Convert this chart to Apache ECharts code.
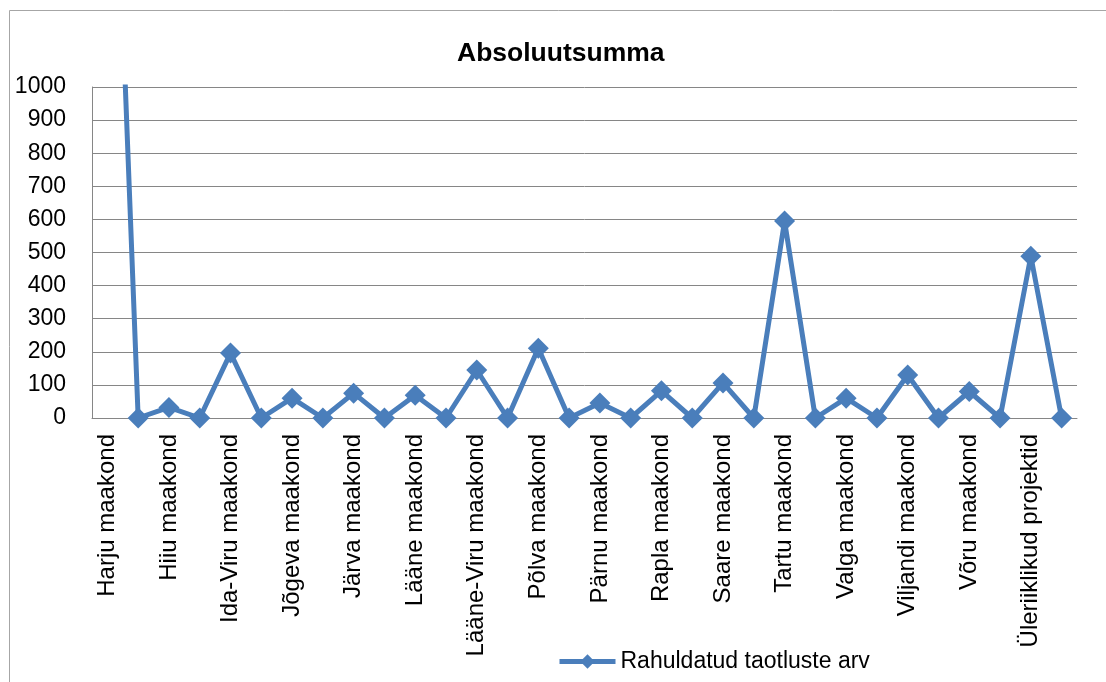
<!DOCTYPE html>
<html>
<head>
<meta charset="utf-8">
<script src="https://cdn.jsdelivr.net/npm/echarts@6/dist/echarts.min.js"></script>
<style>
  html, body { margin: 0; padding: 0; background: #fff; }
  #chart { width: 1106px; height: 682px; }
</style>
</head>
<body>
<div id="chart"></div>
<script>
// every second category has no label in the original
var categories = [
  "Harju maakond", "", "Hiiu maakond", "", "Ida-Viru maakond", "",
  "Jõgeva maakond", "", "Järva maakond", "", "Lääne maakond", "",
  "Lääne-Viru maakond", "", "Põlva maakond", "", "Pärnu maakond", "",
  "Rapla maakond", "", "Saare maakond", "", "Tartu maakond", "",
  "Valga maakond", "", "Viljandi maakond", "", "Võru maakond", "",
  "Üleriiklikud projektid", ""
];
var rahuldatud = [
  2400, 0, 32, 0, 196, 0,
  60, 0, 75, 0, 69, 0,
  145, 0, 211, 0, 45, 0,
  82, 0, 106, 0, 595, 0,
  60, 0, 130, 0, 80, 0,
  489, 0
];
var yTicks = { min: 0, max: 1000, step: 100 };

var chart = echarts.init(document.getElementById("chart"));
var font = "Liberation Sans";
var blue = "#4A7EBB";
chart.setOption({
  animation: false,
  backgroundColor: "#fff",
  graphic: [{
    type: "rect",
    shape: { x: 9.5, y: 10.5, width: 1200, height: 700 },
    style: { fill: "none", stroke: "#a6a6a6", lineWidth: 1 },
    silent: true
  }],
  title: {
    text: "Absoluutsumma",
    left: 452,
    top: 35,
    textStyle: { fontFamily: font, fontSize: 26.5, fontWeight: "bold", color: "#000" }
  },
  legend: {
    bottom: 4,
    left: 552,
    itemWidth: 56,
    itemHeight: 18,
    itemGap: 5,
    lineStyle: { width: 5 },
    textStyle: { fontFamily: font, fontSize: 23, color: "#000" },
    data: ["Rahuldatud taotluste arv"]
  },
  grid: { left: 92, right: 29, top: 87, bottom: 264 },
  xAxis: {
    type: "category",
    data: categories,
    boundaryGap: true,
    axisLine: { lineStyle: { color: "#868686", width: 1 } },
    axisTick: { show: false },
    axisLabel: {
      interval: 0,
      rotate: 90,
      margin: 16,
      fontFamily: font,
      fontSize: 24,
      color: "#000"
    }
  },
  yAxis: {
    type: "value",
    min: yTicks.min,
    max: yTicks.max,
    interval: yTicks.step,
    axisLine: { show: true, lineStyle: { color: "#868686", width: 1 } },
    axisTick: { show: false },
    splitLine: { lineStyle: { color: "#868686", width: 1 } },
    axisLabel: {
      margin: 26,
      fontFamily: font,
      fontSize: 23,
      color: "#000",
      formatter: function (v) { return String(v); }
    }
  },
  series: [{
    name: "Rahuldatud taotluste arv",
    type: "line",
    data: rahuldatud,
    clip: true,
    symbol: "diamond",
    symbolSize: 21,
    color: blue,
    lineStyle: { width: 5, color: blue },
    itemStyle: { color: blue }
  }]
});
</script>
</body>
</html>
